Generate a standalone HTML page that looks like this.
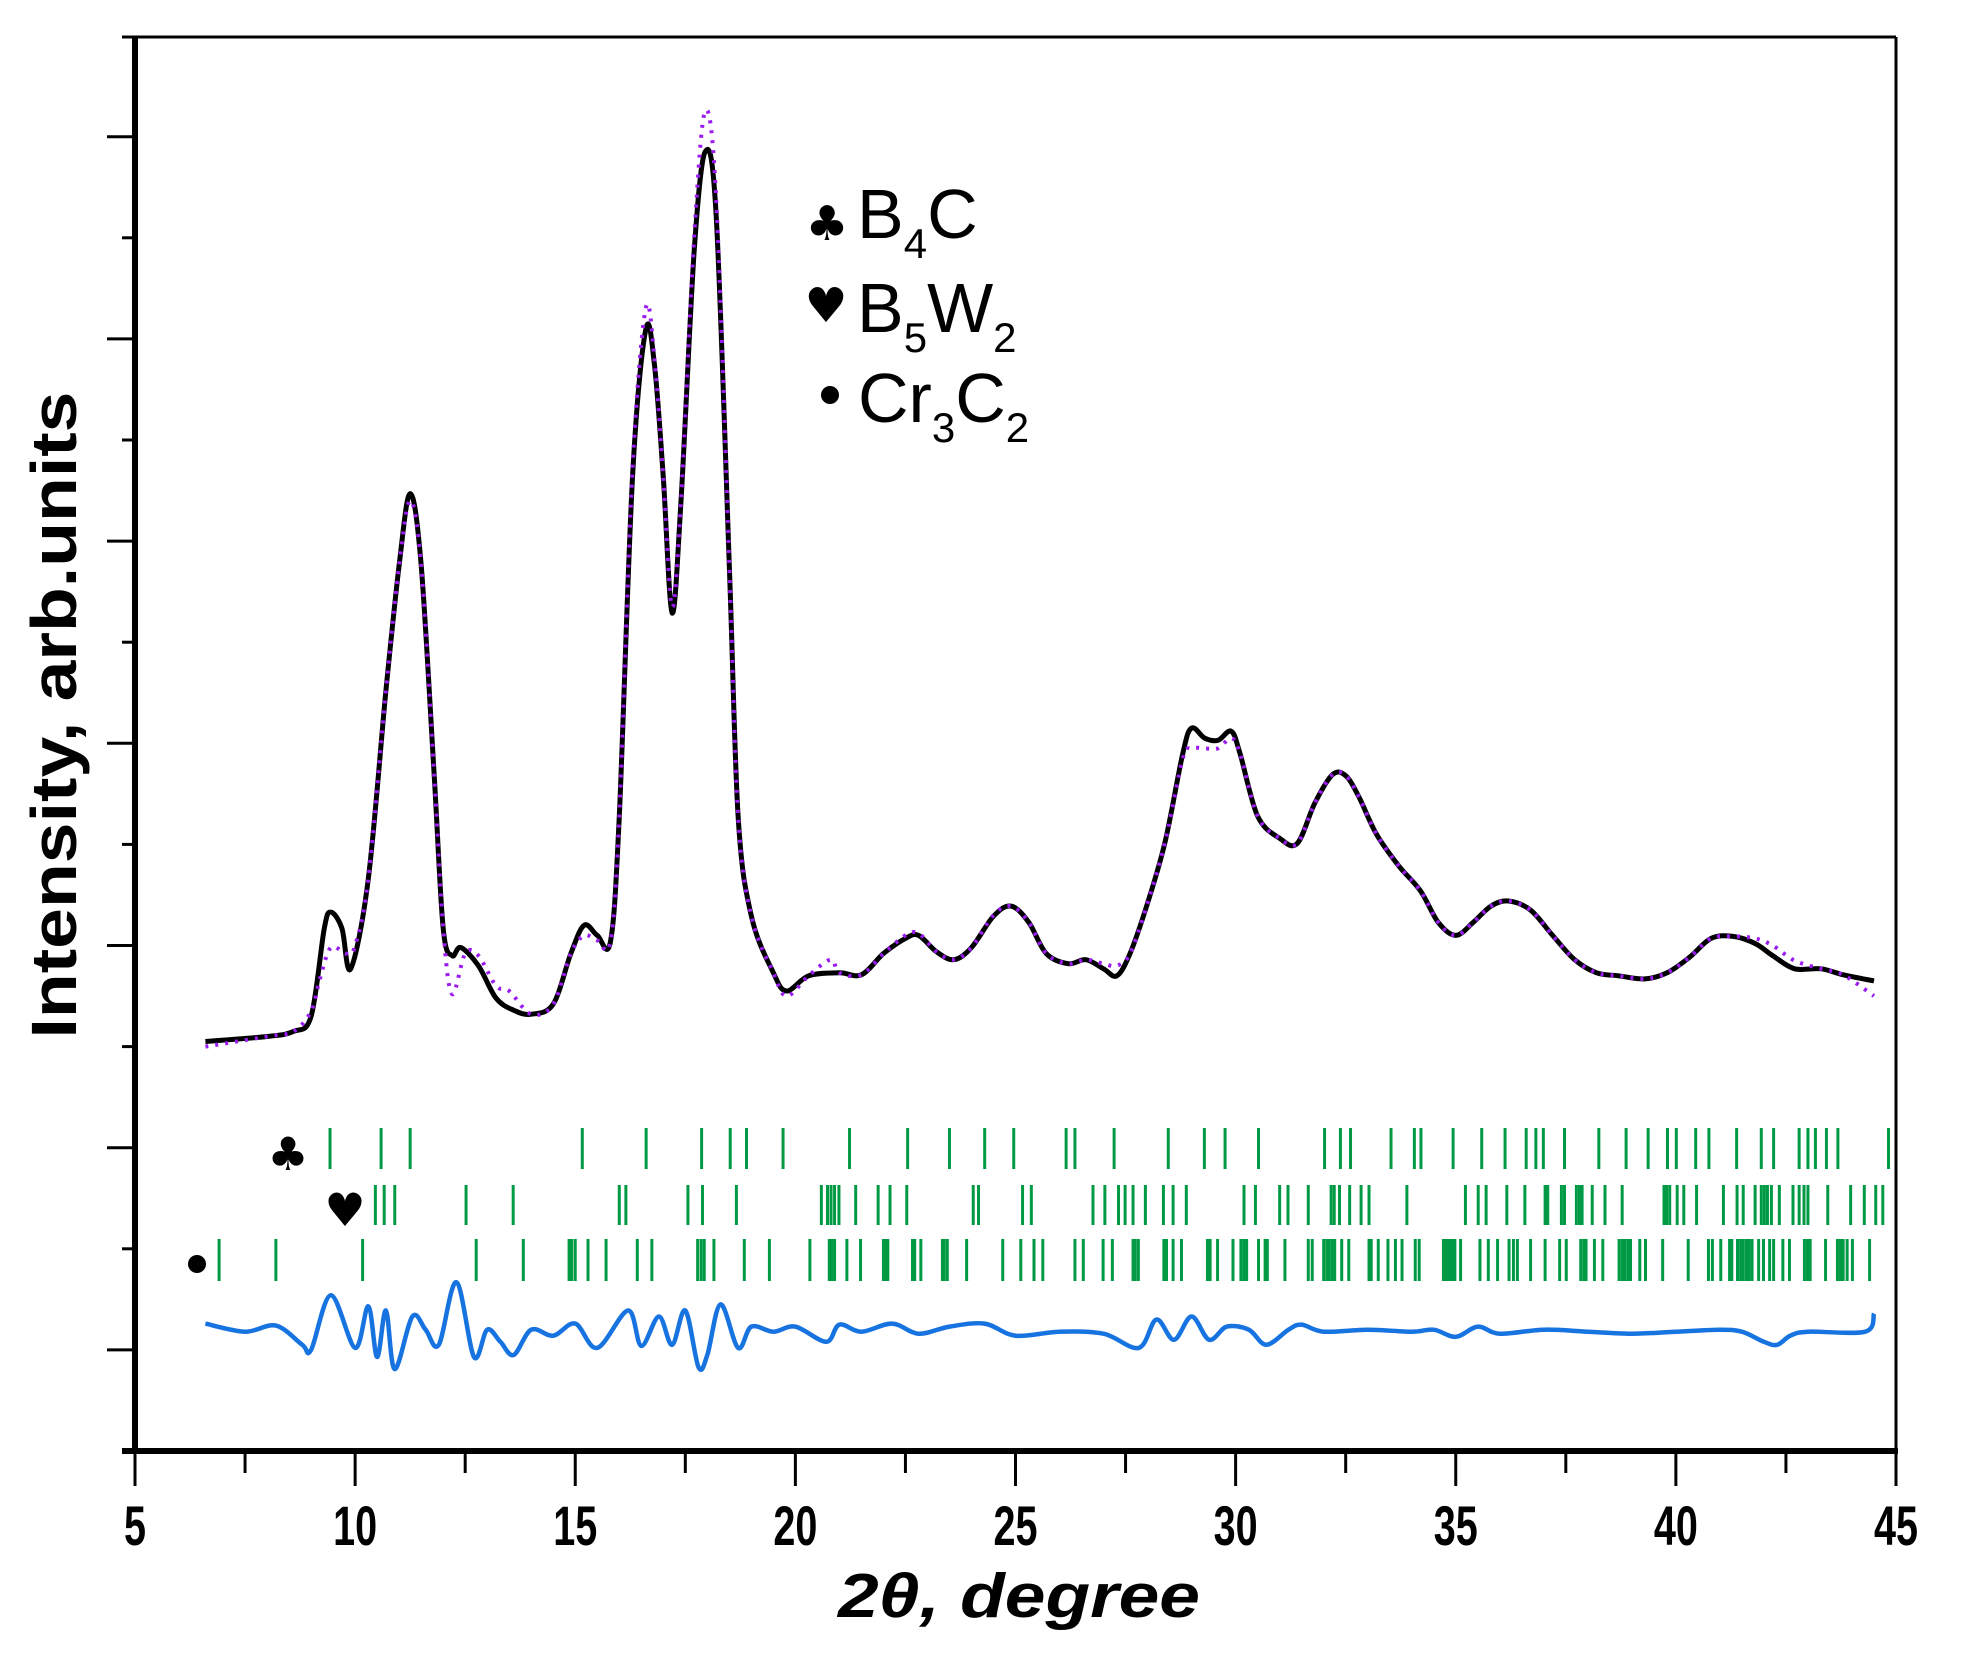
<!DOCTYPE html>
<html><head><meta charset="utf-8"><style>
html,body{margin:0;padding:0;background:#fff;}
svg{display:block;font-family:"Liberation Sans",Arial,sans-serif;}
</style></head><body>
<svg id="chart" width="1964" height="1660" viewBox="0 0 1964 1660" xmlns="http://www.w3.org/2000/svg">
<g id="grid"></g>
<g id="ticks"></g>
<g id="series"></g>
<g id="legend">
  <text x="827" y="240" font-size="48" text-anchor="middle" font-family="DejaVu Sans, sans-serif">♣</text>
  <text x="857" y="238" font-size="70">B<tspan font-size="42" dy="20">4</tspan><tspan dy="-20">C</tspan></text>
  <text x="826" y="322" font-size="48" text-anchor="middle" font-family="DejaVu Sans, sans-serif">♥</text>
  <text x="857" y="332" font-size="70">B<tspan font-size="42" dy="20">5</tspan><tspan dy="-20">W</tspan><tspan font-size="42" dy="20">2</tspan></text>
  <circle cx="830" cy="395" r="9" fill="#000"/>
  <text x="858" y="422" font-size="70">Cr<tspan font-size="42" dy="20">3</tspan><tspan dy="-20">C</tspan><tspan font-size="42" dy="20">2</tspan></text>
</g>
<text transform="translate(76,715) rotate(-90)" text-anchor="middle" font-size="64" font-weight="bold" textLength="647" lengthAdjust="spacingAndGlyphs">Intensity, arb.units</text>
<text x="1019" y="1617" text-anchor="middle" font-size="62" font-weight="bold" font-style="italic" textLength="362" lengthAdjust="spacingAndGlyphs">2θ, degree</text>
</svg>
<script>
const xTicks=[5,10,15,20,25,30,35,40,45];
const obsX=[6.6,8,8.6,9.0,9.3,9.45,9.7,9.9,10.3,10.7,11.0,11.25,11.5,11.8,12.0,12.2,12.4,12.8,13.2,13.6,14.0,14.5,14.9,15.2,15.5,15.8,16.0,16.3,16.6,16.8,17.0,17.2,17.4,17.7,17.95,18.2,18.5,18.7,19.0,19.5,19.8,20.3,21.0,21.5,22.0,22.5,22.8,23.2,23.6,24.0,24.5,24.9,25.3,25.7,26.2,26.6,27.0,27.3,27.6,28.0,28.4,28.8,29.0,29.3,29.6,29.9,30.1,30.5,31.0,31.4,31.8,32.2,32.5,32.8,33.2,33.7,34.2,34.6,35.0,35.4,35.8,36.2,36.7,37.2,37.7,38.2,38.7,39.3,39.8,40.3,40.8,41.3,41.8,42.2,42.7,43.3,43.8,44.5];
const obsY=[4.05,4.10,4.15,4.3,5.17,5.33,5.17,4.77,5.66,7.52,8.76,9.47,8.76,6.65,5.17,4.9,4.98,4.8,4.48,4.36,4.32,4.42,4.92,5.2,5.1,5.04,6.28,9.63,11.09,10.74,9.63,8.29,9.38,11.86,12.85,12.23,8.76,6.28,5.29,4.73,4.55,4.7,4.73,4.71,4.92,5.07,5.1,4.94,4.86,4.98,5.29,5.39,5.23,4.92,4.82,4.86,4.77,4.7,4.92,5.42,6.03,6.9,7.15,7.05,7.03,7.12,6.9,6.28,6.06,6.01,6.41,6.69,6.68,6.47,6.1,5.79,5.54,5.23,5.1,5.23,5.39,5.44,5.35,5.1,4.86,4.73,4.7,4.67,4.73,4.88,5.07,5.09,5.02,4.9,4.77,4.77,4.71,4.65];
const fitX=[6.6,8,8.6,9.0,9.2,9.45,9.8,10.0,10.3,10.7,11.0,11.25,11.5,11.8,12.0,12.2,12.5,12.8,13.2,13.5,14.0,14.5,14.9,15.2,15.5,15.8,16.0,16.3,16.6,16.8,17.0,17.2,17.4,17.7,17.95,18.2,18.5,18.7,19.0,19.5,19.8,20.3,20.8,21.0,21.5,22.0,22.5,22.8,23.2,23.6,24.0,24.5,24.9,25.3,25.7,26.2,26.6,27.0,27.3,27.6,28.0,28.4,28.8,29.0,29.3,29.6,29.9,30.1,30.5,31.0,31.4,31.8,32.2,32.5,32.8,33.2,33.7,34.2,34.6,35.0,35.4,35.8,36.2,36.7,37.2,37.7,38.2,38.7,39.3,39.8,40.3,40.8,41.3,41.8,42.2,42.7,43.3,43.8,44.5];
const fitY=[4.0,4.1,4.15,4.35,4.67,4.98,4.92,5.0,5.66,7.52,8.76,9.4,8.76,6.65,5.17,4.52,4.92,4.9,4.6,4.55,4.32,4.42,4.92,5.1,5.05,5.04,6.28,9.7,11.3,10.8,9.63,8.35,9.38,12.0,13.25,12.4,8.76,6.28,5.29,4.73,4.5,4.7,4.86,4.73,4.71,4.92,5.1,5.12,4.94,4.86,4.98,5.3,5.39,5.23,4.92,4.82,4.86,4.82,4.8,4.92,5.42,6.03,6.85,6.95,6.95,6.95,7.05,6.9,6.28,6.06,6.01,6.41,6.69,6.68,6.47,6.1,5.79,5.54,5.23,5.1,5.23,5.39,5.44,5.35,5.1,4.86,4.73,4.7,4.67,4.73,4.88,5.07,5.09,5.07,5.0,4.85,4.77,4.71,4.5];
const diffX=[6.6,7.5,8.2,8.8,9.0,9.45,10.0,10.3,10.5,10.7,10.9,11.3,11.6,11.9,12.3,12.7,13.0,13.3,13.6,14.0,14.5,15.0,15.5,16.2,16.5,16.9,17.2,17.5,17.8,18.0,18.3,18.7,19.0,19.5,20.0,20.7,21.0,21.5,22.2,22.8,23.5,24.3,25.0,26,27,27.8,28.2,28.6,29.0,29.4,29.8,30.3,30.7,31.2,31.5,32,33,34,34.5,35,35.5,36,37,38,39,40,41,41.5,42,42.3,42.6,43,44.3,44.5];
const diffY=[1.26,1.18,1.24,1.05,1.0,1.54,1.02,1.43,0.93,1.39,0.81,1.33,1.2,1.05,1.67,0.93,1.2,1.08,0.95,1.2,1.14,1.26,1.02,1.39,1.04,1.33,1.05,1.39,0.83,0.95,1.45,1.02,1.23,1.18,1.23,1.08,1.25,1.18,1.26,1.16,1.23,1.26,1.14,1.18,1.16,1.02,1.3,1.1,1.33,1.1,1.23,1.2,1.05,1.2,1.25,1.18,1.2,1.18,1.2,1.13,1.23,1.16,1.2,1.18,1.16,1.18,1.2,1.18,1.08,1.05,1.14,1.18,1.18,1.36];
const b4cPeaks=[9.43,10.59,11.25,15.16,16.61,17.87,18.52,18.89,19.72,21.23,22.55,23.50,24.30,24.96,26.15,26.35,27.24,28.47,29.29,29.76,30.52,32.02,32.38,32.61,33.53,34.06,34.21,34.94,35.59,36.12,36.60,36.82,36.99,37.47,38.25,38.87,39.37,39.81,40.01,40.45,40.75,41.38,41.94,42.22,42.80,43.00,43.17,43.42,43.68,44.83];
const b5w2Peaks=[10.46,10.66,10.90,12.52,13.59,16.00,16.15,17.56,17.89,18.66,20.59,20.73,20.81,20.89,20.99,21.37,21.88,22.15,22.53,24.04,24.16,25.16,25.36,26.76,27.03,27.34,27.49,27.67,27.95,28.36,28.58,28.88,30.19,30.45,31.00,31.19,31.65,32.17,32.24,32.36,32.59,32.85,33.03,33.89,35.22,35.51,35.69,36.16,36.57,37.03,37.09,37.40,37.47,37.74,37.81,37.87,38.10,38.39,38.78,39.73,39.79,39.86,40.03,40.18,40.47,41.08,41.39,41.53,41.80,41.94,42.01,42.08,42.17,42.35,42.66,42.80,42.91,43.00,43.45,43.97,44.28,44.54,44.70];
const cr3c2Peaks=[6.91,8.20,10.17,12.75,13.82,14.86,14.92,15.00,15.29,15.70,16.41,16.74,17.78,17.86,17.93,18.15,18.84,19.41,20.33,20.77,20.82,20.89,21.17,21.48,22.00,22.05,22.10,22.66,22.71,22.85,23.34,23.38,23.45,23.89,24.71,25.12,25.42,25.62,26.35,26.54,26.99,27.20,27.67,27.72,27.79,28.37,28.43,28.58,28.77,29.36,29.42,29.59,29.94,30.12,30.19,30.25,30.52,30.67,30.72,31.12,31.65,31.74,32.00,32.07,32.13,32.20,32.25,32.41,32.57,33.03,33.08,33.24,33.46,33.63,33.78,34.08,34.17,34.72,34.77,34.82,34.87,34.92,34.98,35.11,35.55,35.74,35.95,36.21,36.31,36.40,36.70,37.03,37.36,37.51,37.84,37.91,37.96,38.15,38.34,38.71,38.78,38.84,38.91,38.97,39.18,39.31,39.70,40.28,40.74,40.83,41.02,41.22,41.27,41.40,41.47,41.53,41.60,41.66,41.73,41.88,41.99,42.13,42.22,42.43,42.58,42.92,42.99,43.05,43.40,43.67,43.74,43.80,43.89,44.01,44.40];

const NS="http://www.w3.org/2000/svg";
const L=135,R=1896,T=37,B=1451;
const X=v=>L+(v-5)*(R-L)/40;
const Y=v=>B-v*101.1;
function mk(tag,attrs,parent){const e=document.createElementNS(NS,tag);for(const k in attrs)e.setAttribute(k,attrs[k]);parent.appendChild(e);return e;}
function smooth(xs,ys){let pts=xs.map((x,i)=>[X(x),Y(ys[i])]);let d="M"+pts[0][0].toFixed(1)+","+pts[0][1].toFixed(1);
 for(let i=0;i<pts.length-1;i++){const p0=pts[Math.max(0,i-1)],p1=pts[i],p2=pts[i+1],p3=pts[Math.min(pts.length-1,i+2)];
 const c1=[p1[0]+(p2[0]-p0[0])/6,p1[1]+(p2[1]-p0[1])/6],c2=[p2[0]-(p3[0]-p1[0])/6,p2[1]-(p3[1]-p1[1])/6];
 d+=" C"+c1.map(v=>v.toFixed(1))+" "+c2.map(v=>v.toFixed(1))+" "+p2.map(v=>v.toFixed(1));}return d;}

const g=document.getElementById('grid'),tk=document.getElementById('ticks'),s=document.getElementById('series');
let fr=mk('line',{x1:122,y1:T,x2:R,y2:T,stroke:'#000','stroke-width':3},g);

fr=mk('line',{x1:R,y1:T,x2:R,y2:B,stroke:'#000','stroke-width':3},g);

fr=mk('line',{x1:L,y1:T,x2:L,y2:B+3,stroke:'#000','stroke-width':6},g);

fr=mk('line',{x1:122,y1:B,x2:R+2,y2:B,stroke:'#000','stroke-width':6},g);

for(let k=1;k<=13;k++){const y=Y(k);const t=mk('line',{x1:k%2===1?107:122,y1:y,x2:L,y2:y,stroke:'#000','stroke-width':3},tk);
 }
for(let v=5;v<=45;v+=2.5){const major=(v%5===0);const t=mk('line',{x1:X(v),y1:B,x2:X(v),y2:major?1486:1473,stroke:'#000','stroke-width':3},tk);
 }
xTicks.forEach(v=>{const t=mk('text',{x:X(v),y:1545,'text-anchor':'middle','font-size':56,'font-weight':'bold',textLength:String(v).length>1?44:22,lengthAdjust:'spacingAndGlyphs'},tk);t.textContent=v;
 });
let p=mk('path',{d:smooth(obsX,obsY),fill:'none',stroke:'#000','stroke-width':5,'stroke-linejoin':'round'},s);

p=mk('path',{d:smooth(fitX,fitY),fill:'none',stroke:'#9a1cf0','stroke-width':4,'stroke-dasharray':'3 7','stroke-linecap':'butt'},s);

p=mk('path',{d:smooth(diffX,diffY),fill:'none',stroke:'#1673e0','stroke-width':4.5,'stroke-linejoin':'round'},s);

function rowTicks(arr,y1,y2,name){arr.forEach(v=>{const t=mk('line',{x1:X(v),y1:y1,x2:X(v),y2:y2,stroke:'#009a44','stroke-width':3},s);
 });}
rowTicks(b4cPeaks,1128,1169,'b4c-bragg-tick');
rowTicks(b5w2Peaks,1185,1225,'b5w2-bragg-tick');
rowTicks(cr3c2Peaks,1239,1281,'cr3c2-bragg-tick');
let m=mk('text',{x:288,y:1170,'font-size':46,'text-anchor':'middle','font-family':'DejaVu Sans, sans-serif'},s);m.textContent='♣';

m=mk('text',{x:345,y:1226,'font-size':46,'text-anchor':'middle','font-family':'DejaVu Sans, sans-serif'},s);m.textContent='♥';

m=mk('circle',{cx:197,cy:1264,r:9,fill:'#000'},s);

</script>
</body></html>
